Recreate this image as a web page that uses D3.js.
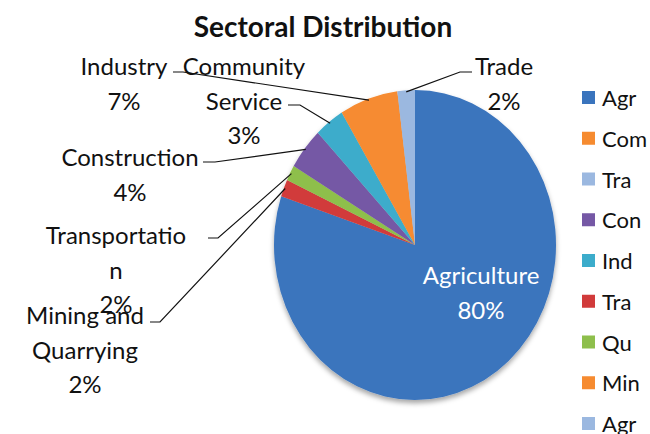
<!DOCTYPE html>
<html><head><meta charset="utf-8">
<script src="https://cdn.jsdelivr.net/npm/d3@7/dist/d3.min.js"></script>
<style>
html,body{margin:0;padding:0;background:#fff;}
svg{display:block;font-family:Lato,"Open Sans",sans-serif;}
</style></head>
<body>
<svg id="chart" width="650" height="434"></svg>
<script>
// ---- data ----
const categories = ["Agriculture","Mining and Quarrying","Transportation","Construction","Community Service","Industry","Trade"];
const values = [80.1, 1.8, 1.6, 4.4, 3.4, 6.7, 2.0];
const sliceColors = ["#3a74bd","#d13b3b","#8ebf4c","#7558a5","#3caccb","#f68b30","#9bb8e0"];
const labelLines = [
  ["Agriculture","80%"],
  ["Mining and","Quarrying","2%"],
  ["Transportatio","n","2%"],
  ["Construction","4%"],
  ["Community","Service","3%"],
  ["Industry","7%"],
  ["Trade","2%"]
];
const legendLabels = ["Agr","Com","Tra","Con","Ind","Tra","Qu","Min","Agr"];
const legendColors = ["#3a74bd","#f68b30","#9bb8e0","#7558a5","#3caccb","#d13b3b","#8ebf4c","#f68b30","#9bb8e0"];
const title = "Sectoral Distribution";

// ---- layout ----
const cx = 415, cy = 245, rx = 141, ry = 155;
const labelLayout = [
  {x:481, y:284, anchor:null, elbow:null, color:"#fff"},
  {x:85,  y:324, anchor:[150,322], elbow:[160,322]},
  {x:116, y:244, anchor:[208,238], elbow:[218,238]},
  {x:130, y:166, anchor:[203,162], elbow:[215,162]},
  {x:244, y:75,  anchor:[288,105], elbow:[300,105]},
  {x:124, y:75,  anchor:[173,72],  elbow:[183,72]},
  {x:504, y:75,  anchor:[472,72],  elbow:[460,72]}
];
const lineH = 34.5;

const svg = d3.select("#chart");
const defs = svg.append("defs");
const f = defs.append("filter").attr("id","sh").attr("x","-20%").attr("y","-20%").attr("width","140%").attr("height","140%");
f.append("feDropShadow").attr("dx",0).attr("dy",3).attr("stdDeviation",2.5).attr("flood-color","#000").attr("flood-opacity",0.35);

const pie = d3.pie().sort(null).value(d => d)(values);
const arc = d3.arc().innerRadius(0).outerRadius(rx);
const edge = d3.arc().innerRadius(rx).outerRadius(rx);

const g = svg.append("g").attr("transform",`translate(${cx},${cy}) scale(1,${ry/rx})`);
const gs = g.append("g").attr("filter","url(#sh)");
gs.selectAll("path").data(pie).join("path")
  .attr("d", arc)
  .attr("fill", (d,i) => sliceColors[i]);

// leader lines
const sy = ry/rx;
svg.append("g").selectAll("polyline").data(pie.filter((d,i)=>labelLayout[i].anchor))
  .join("polyline")
  .attr("fill","none").attr("stroke","#111").attr("stroke-width",1.2)
  .attr("points", d => {
    const i = d.index, L = labelLayout[i];
    const c = edge.centroid(d);
    const p = [cx + c[0]*0.99, cy + c[1]*sy*0.99];
    return [L.anchor, L.elbow, p].map(q => q.join(",")).join(" ");
  });

// labels
pie.forEach((d,i) => {
  const L = labelLayout[i];
  const t = svg.append("text")
    .attr("text-anchor","middle")
    .attr("font-size", 24)
    .attr("fill", L.color || "#111");
  labelLines[i].forEach((s,k) => {
    t.append("tspan").attr("x", L.x).attr("y", L.y + k*lineH).text(s);
  });
});

// title
svg.append("text").attr("x",323).attr("y",37).attr("text-anchor","middle")
  .attr("font-size",28).attr("font-weight","bold").attr("fill","#111").text(title);

// legend
const leg = svg.append("g");
const ly = d3.scalePoint().domain(d3.range(legendLabels.length)).range([98, 424]);
legendLabels.forEach((s,i) => {
  leg.append("rect").attr("x",582).attr("y",ly(i)-7).attr("width",13).attr("height",13).attr("fill",legendColors[i]);
  leg.append("text").attr("x",602).attr("y",ly(i)+8).attr("font-size",22).attr("fill","#111").text(s);
});
</script>
</body></html>
